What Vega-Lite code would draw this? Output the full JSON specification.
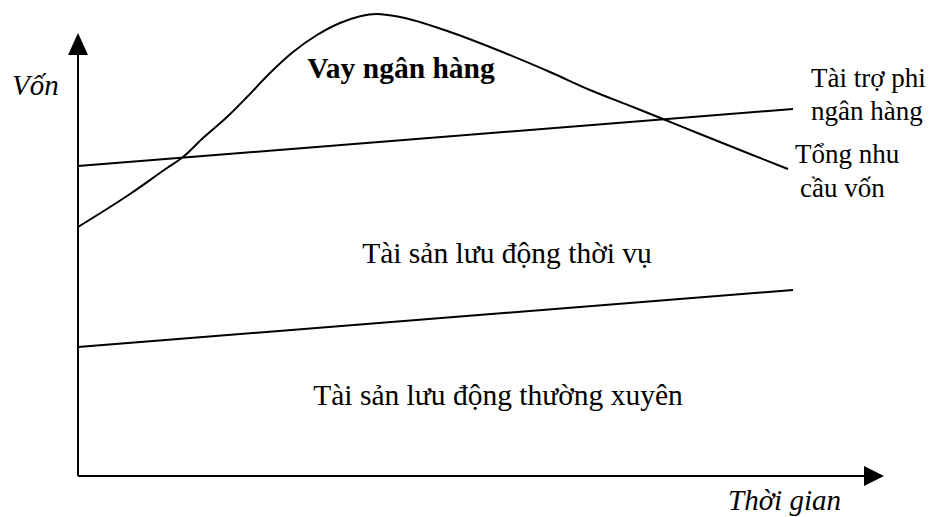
{
  "$schema": "https://vega.github.io/schema/vega-lite/v6.json",
  "width": 929,
  "height": 517,
  "autosize": {"type": "fit", "contains": "padding"},
  "padding": 0,
  "background": "white",
  "config": {"view": {"stroke": null}},
  "datasets": {
    "axes": [
      {"axis": "Thời gian", "x": 0, "y": 0, "x2": 790, "y2": 0},
      {"axis": "Vốn", "x": 0, "y": 0, "x2": 0, "y2": 425}
    ],
    "arrowY": [{"x": 0, "y": 432}],
    "arrowX": [{"x": 796, "y": 0}],
    "straight": [
      {"series": "Tài trợ phi ngân hàng", "x": 0, "y": 310, "x2": 715, "y2": 367},
      {"series": "Tài sản lưu động thường xuyên", "x": 0, "y": 129, "x2": 715, "y2": 186}
    ],
    "total": [
      {"x": 0, "y": 249}, {"x": 52, "y": 282}, {"x": 89, "y": 308}, {"x": 105, "y": 319},
      {"x": 125, "y": 338}, {"x": 149, "y": 359}, {"x": 169, "y": 379}, {"x": 192, "y": 403},
      {"x": 215, "y": 424}, {"x": 239, "y": 441}, {"x": 262, "y": 453}, {"x": 299, "y": 462},
      {"x": 322, "y": 459}, {"x": 372, "y": 444}, {"x": 422, "y": 425}, {"x": 472, "y": 404},
      {"x": 512, "y": 386}, {"x": 555, "y": 369}, {"x": 585, "y": 357}, {"x": 622, "y": 342},
      {"x": 672, "y": 322}, {"x": 710, "y": 307}
    ],
    "axisTitles": [
      {"label": "Vốn", "x": -66, "y": 381},
      {"label": "Thời gian", "x": 650, "y": -34}
    ],
    "regions": [
      {"label": "Tài sản lưu động thời vụ", "x": 429, "y": 213},
      {"label": "Tài sản lưu động thường xuyên", "x": 420, "y": 71}
    ],
    "bank": [{"label": "Vay ngân hàng", "x": 323, "y": 398}],
    "lineLabels": [
      {"label": "Tài trợ phi", "x": 733, "y": 389},
      {"label": "ngân hàng", "x": 733, "y": 356},
      {"label": "Tổng nhu", "x": 717, "y": 313},
      {"label": "cầu vốn", "x": 722, "y": 279}
    ]
  },
  "layer": [
    {
      "data": {"name": "axes"},
      "mark": {"type": "rule", "color": "black", "strokeWidth": 2},
      "encoding": {
        "x": {"field": "x", "type": "quantitative", "scale": {"domain": [-78, 851], "nice": false, "zero": false}, "axis": null},
        "y": {"field": "y", "type": "quantitative", "scale": {"domain": [-41, 476], "nice": false, "zero": false}, "axis": null},
        "x2": {"field": "x2"},
        "y2": {"field": "y2"}
      }
    },
    {
      "data": {"name": "arrowY"},
      "mark": {"type": "point", "shape": "M0,-1.1L-1,1.1L1,1.1Z", "filled": true, "color": "black", "opacity": 1, "size": 400},
      "encoding": {
        "x": {"field": "x", "type": "quantitative", "scale": {"domain": [-78, 851], "nice": false, "zero": false}, "axis": null},
        "y": {"field": "y", "type": "quantitative", "scale": {"domain": [-41, 476], "nice": false, "zero": false}, "axis": null}
      }
    },
    {
      "data": {"name": "arrowX"},
      "mark": {"type": "point", "shape": "M1,0L-1,-1L-1,1Z", "filled": true, "color": "black", "opacity": 1, "size": 400},
      "encoding": {
        "x": {"field": "x", "type": "quantitative", "scale": {"domain": [-78, 851], "nice": false, "zero": false}, "axis": null},
        "y": {"field": "y", "type": "quantitative", "scale": {"domain": [-41, 476], "nice": false, "zero": false}, "axis": null}
      }
    },
    {
      "data": {"name": "straight"},
      "mark": {"type": "rule", "color": "black", "strokeWidth": 2},
      "encoding": {
        "x": {"field": "x", "type": "quantitative", "scale": {"domain": [-78, 851], "nice": false, "zero": false}, "axis": null},
        "y": {"field": "y", "type": "quantitative", "scale": {"domain": [-41, 476], "nice": false, "zero": false}, "axis": null},
        "x2": {"field": "x2"},
        "y2": {"field": "y2"}
      }
    },
    {
      "data": {"name": "total"},
      "mark": {"type": "line", "color": "black", "strokeWidth": 2, "interpolate": "monotone"},
      "encoding": {
        "x": {"field": "x", "type": "quantitative", "scale": {"domain": [-78, 851], "nice": false, "zero": false}, "axis": null},
        "y": {"field": "y", "type": "quantitative", "scale": {"domain": [-41, 476], "nice": false, "zero": false}, "axis": null}
      }
    },
    {
      "data": {"name": "axisTitles"},
      "mark": {"type": "text", "font": "Liberation Serif", "fontSize": 29, "fontStyle": "italic", "align": "left", "baseline": "alphabetic", "color": "black"},
      "encoding": {
        "x": {"field": "x", "type": "quantitative", "scale": {"domain": [-78, 851], "nice": false, "zero": false}, "axis": null},
        "y": {"field": "y", "type": "quantitative", "scale": {"domain": [-41, 476], "nice": false, "zero": false}, "axis": null},
        "text": {"field": "label"}
      }
    },
    {
      "data": {"name": "regions"},
      "mark": {"type": "text", "font": "Liberation Serif", "fontSize": 29.5, "align": "center", "baseline": "alphabetic", "color": "black"},
      "encoding": {
        "x": {"field": "x", "type": "quantitative", "scale": {"domain": [-78, 851], "nice": false, "zero": false}, "axis": null},
        "y": {"field": "y", "type": "quantitative", "scale": {"domain": [-41, 476], "nice": false, "zero": false}, "axis": null},
        "text": {"field": "label"}
      }
    },
    {
      "data": {"name": "bank"},
      "mark": {"type": "text", "font": "Liberation Serif", "fontSize": 29.5, "fontWeight": "bold", "align": "center", "baseline": "alphabetic", "color": "black"},
      "encoding": {
        "x": {"field": "x", "type": "quantitative", "scale": {"domain": [-78, 851], "nice": false, "zero": false}, "axis": null},
        "y": {"field": "y", "type": "quantitative", "scale": {"domain": [-41, 476], "nice": false, "zero": false}, "axis": null},
        "text": {"field": "label"}
      }
    },
    {
      "data": {"name": "lineLabels"},
      "mark": {"type": "text", "font": "Liberation Serif", "fontSize": 27, "align": "left", "baseline": "alphabetic", "color": "black"},
      "encoding": {
        "x": {"field": "x", "type": "quantitative", "scale": {"domain": [-78, 851], "nice": false, "zero": false}, "axis": null},
        "y": {"field": "y", "type": "quantitative", "scale": {"domain": [-41, 476], "nice": false, "zero": false}, "axis": null},
        "text": {"field": "label"}
      }
    }
  ]
}
